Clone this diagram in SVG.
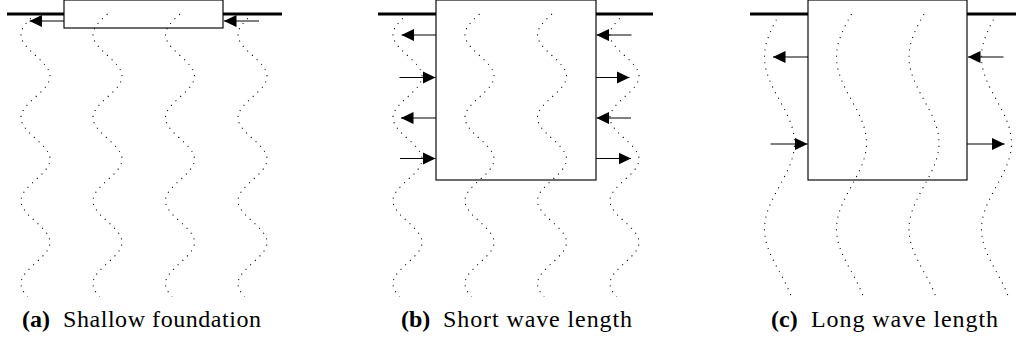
<svg xmlns="http://www.w3.org/2000/svg" width="1016" height="342" viewBox="0 0 1016 342">
<style>
.dot{fill:none;stroke:#000;stroke-width:1.07;stroke-dasharray:1.07 5.33}
.ground{stroke:#000;stroke-width:2.8;fill:none}
.box{fill:#fff;stroke:#000;stroke-width:1.15}
.arr{stroke:#000;stroke-width:1.1;fill:none;marker-end:url(#ah)}
.cap{font-family:'Liberation Serif','Times New Roman',serif;font-size:24px;fill:#000}
.lbl{font-weight:bold}
</style>
<defs>
<marker id="ah" viewBox="0 0 12 12" refX="12" refY="6" markerWidth="12.5" markerHeight="12.5" markerUnits="userSpaceOnUse" orient="auto">
<path d="M0,0.2 L12,6 L0,11.8 Z" fill="#000"/>
</marker>
<clipPath id="clipw"><rect x="0" y="0" width="1016" height="296.5"/></clipPath>
<path id="wA" class="dot" d="M0,14 c-7.428,6.767 -14.5,13.24 -14.5,20.75 c0,7.51 7.072,13.983 14.5,20.75 c7.428,6.767 14.5,13.24 14.5,20.75 c0,7.51 -7.072,13.983 -14.5,20.75 c-7.428,6.767 -14.5,13.24 -14.5,20.75 c0,7.51 7.072,13.983 14.5,20.75 c7.428,6.767 14.5,13.24 14.5,20.75 c0,7.51 -7.072,13.983 -14.5,20.75 c-7.428,6.767 -14.5,13.24 -14.5,20.75 c0,7.51 7.072,13.983 14.5,20.75 c7.428,6.767 14.5,13.24 14.5,20.75 c0,7.51 -7.072,13.983 -14.5,20.75 c-7.428,6.767 -14.5,13.24 -14.5,20.75 c0,7.51 7.072,13.983 14.5,20.75 c7.428,6.767 14.5,13.24 14.5,20.75 c0,7.51 -7.072,13.983 -14.5,20.75"/>
<path id="wC" class="dot" d="M0,14 c-7.685,14.024 -15,27.438 -15,43 c0,15.562 7.315,28.976 15,43 c7.685,14.024 15,27.438 15,43 c0,15.562 -7.315,28.976 -15,43 c-7.685,14.024 -15,27.438 -15,43 c0,15.562 7.315,28.976 15,43 c7.685,14.024 15,27.438 15,43 c0,15.562 -7.315,28.976 -15,43"/>
</defs>

<g id="ground">
<line class="ground" x1="7" y1="14" x2="282" y2="14"/>
<line class="ground" x1="378" y1="14" x2="653" y2="14"/>
<line class="ground" x1="750" y1="14" x2="1016" y2="14"/>
</g>

<g id="box-a"><rect class="box" x="64" y="0" width="159" height="28"/></g>
<g id="box-b"><rect class="box" x="436" y="0" width="160" height="180"/></g>
<g id="box-c"><rect class="box" x="808" y="0" width="159" height="180"/></g>

<g id="waves" clip-path="url(#clipw)">
<use href="#wA" x="35.5"/>
<use href="#wA" x="107.5"/>
<use href="#wA" x="180"/>
<use href="#wA" x="252.5"/>
<use href="#wA" x="407.5"/>
<use href="#wA" x="479.5"/>
<use href="#wA" x="552"/>
<use href="#wA" x="624.5"/>
<use href="#wC" x="779.5"/>
<use href="#wC" x="851.5"/>
<use href="#wC" x="924"/>
<use href="#wC" x="996.5"/>
</g>

<g id="connectors">
<line class="arr" x1="64" y1="21" x2="29.5" y2="21"/>
<line class="arr" x1="259" y1="21" x2="224" y2="21"/>

<line class="arr" x1="436" y1="35" x2="401.5" y2="35"/>
<line class="arr" x1="399.5" y1="77.5" x2="435.5" y2="77.5"/>
<line class="arr" x1="436" y1="118" x2="401" y2="118"/>
<line class="arr" x1="400" y1="158.5" x2="435.5" y2="158.5"/>
<line class="arr" x1="631.5" y1="35" x2="596.5" y2="35"/>
<line class="arr" x1="596" y1="77.5" x2="629.5" y2="77.5"/>
<line class="arr" x1="631" y1="118" x2="596.5" y2="118"/>
<line class="arr" x1="596" y1="158.5" x2="631" y2="158.5"/>

<line class="arr" x1="808" y1="57" x2="773" y2="57"/>
<line class="arr" x1="1003.5" y1="57" x2="968" y2="57"/>
<line class="arr" x1="770.5" y1="144" x2="807.5" y2="144"/>
<line class="arr" x1="967" y1="144" x2="1004.5" y2="144"/>
</g>

<g id="captions" font-family="Liberation Serif, Times New Roman, serif">
<text class="cap" y="327"><tspan class="lbl" x="22">(a)</tspan><tspan x="63" textLength="198" lengthAdjust="spacing">Shallow foundation</tspan></text>
<text class="cap" y="327"><tspan class="lbl" x="401">(b)</tspan><tspan x="443" textLength="189" lengthAdjust="spacing">Short wave length</tspan></text>
<text class="cap" y="327"><tspan class="lbl" x="771">(c)</tspan><tspan x="811" textLength="187" lengthAdjust="spacing">Long wave length</tspan></text>
</g>
</svg>
